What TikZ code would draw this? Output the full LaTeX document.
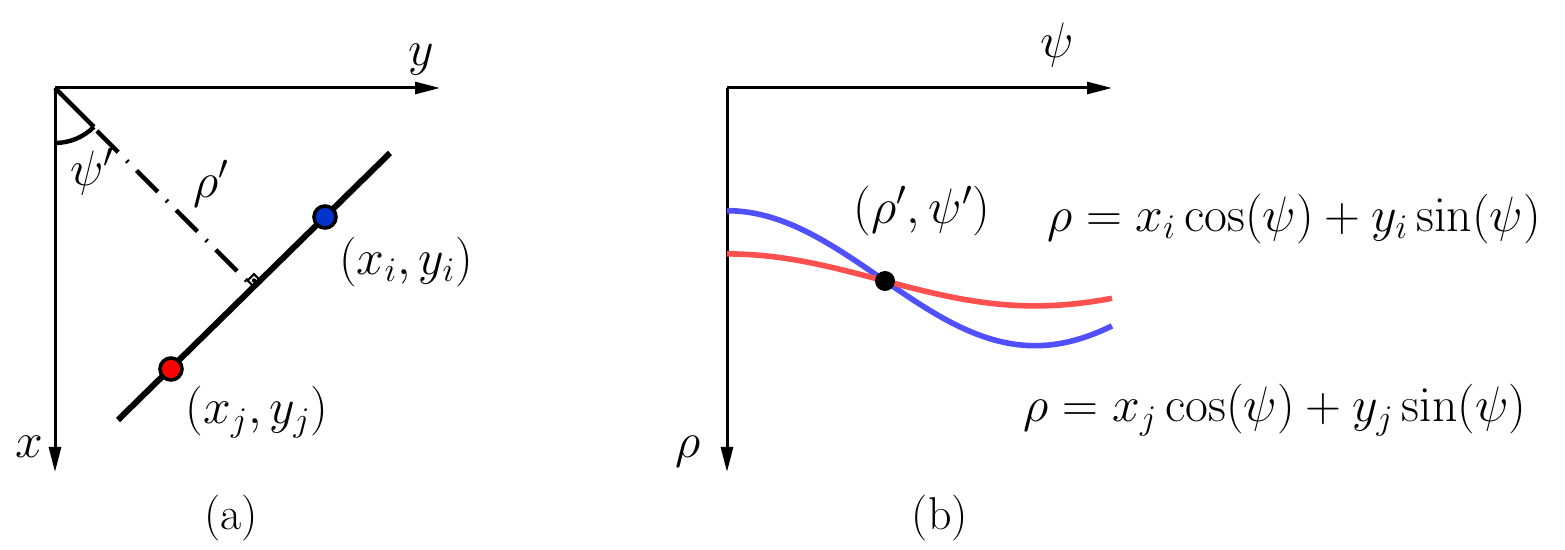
\documentclass[tikz,border=0pt]{standalone}
\usetikzlibrary{arrows.meta}
\begin{document}
\begin{tikzpicture}[x=0.5pt,y=-0.5pt,
  axis/.style={line width=1.5pt,-{Triangle[length=12.5pt,width=6pt]}},
  lbl/.style={font=\fontsize{24}{28}\selectfont,inner sep=0pt},
  captionlbl/.style={font=\rmfamily\fontsize{23}{27}\selectfont,inner sep=0pt},
  thick line/.style={line width=3pt},
  dot/.style={circle,draw=black,line width=1.8pt,minimum size=11pt,inner sep=0pt},
  curve/.style={line width=2.8pt}]
\useasboundingbox (0,0) rectangle (1565,550);
\definecolor{cblue}{RGB}{80,80,255}
\definecolor{cred}{RGB}{255,80,80}
\definecolor{dblue}{RGB}{0,51,204}
% ---------- panel (a)
\coordinate (oa) at (55,88);
\coordinate (ya) at (440,88);
\coordinate (xa) at (55,472);
\draw[axis] (oa) -- (ya);
\draw[axis] (oa) -- (xa);
\node[lbl] (ylab) at (421,60) {$y$};
\node[lbl] (xlab) at (29,447) {$x$};
% angle
\coordinate (arcend) at (93.9,126.9);
\draw[line width=2.2pt] (oa) -- (arcend);
\draw[line width=2.2pt] (55,143) arc[start angle=90,end angle=45,radius=55];
% perpendicular
\coordinate (ps) at (97,131);
\coordinate (foot) at (250,284);
\draw[line width=2.2pt,dash pattern=on 15pt off 6pt on 1pt off 6pt] (ps) -- (foot);
\node[draw,line width=1pt,rotate=45,minimum size=4.5pt,inner sep=0pt,fill=white] (ra) at (254,280.5) {};
\fill (ra.center) circle (1.1pt);
% main line
\coordinate (la) at (118,420);
\coordinate (lb) at (390,153);
\draw[thick line] (la) -- (lb);
\node[dot,fill=dblue] (pi) at (325,217) {};
\node[dot,fill=red] (pj) at (171,369) {};
\node[lbl] (psia) at (92,172) {$\psi'$};
\node[lbl] (rhoa) at (211,184) {$\rho'$};
\node[lbl] (xiyi) at (406,262) {$(x_i,y_i)$};
\node[lbl] (xjyj) at (257,412) {$(x_j,y_j)$};
\node[captionlbl] (a) at (231,518) {(a)};
% ---------- panel (b)
\coordinate (ob) at (727,88);
\coordinate (psib) at (1112,88);
\coordinate (rhob) at (727,472);
\draw[axis] (ob) -- (psib);
\draw[axis] (ob) -- (rhob);
\node[lbl] (psilab) at (1057,45) {$\psi$};
\node[lbl] (rholab) at (688,452) {$\rho$};
\draw[curve,cblue] plot[domain=727:1112,samples=120,smooth] (\x,{278.2-67.5*cos(deg((\x-727)/308*pi))});
\draw[curve,cred] plot[domain=727:1112,samples=120,smooth] (\x,{279.9-26*cos(deg((\x-727)/308*pi))});
\node[circle,fill=black,minimum size=10pt,inner sep=0pt] (pt) at (885,281) {};
\node[lbl] (rp) at (922,211) {$(\rho',\psi')$};
\node[lbl] (eqi) at (1294,219) {$\rho = x_i\cos(\psi)+y_i\sin(\psi)$};
\node[lbl] (eqj) at (1275,410) {$\rho = x_j\cos(\psi)+y_j\sin(\psi)$};
\node[captionlbl] (b) at (940,518) {(b)};
\end{tikzpicture}
\end{document}
